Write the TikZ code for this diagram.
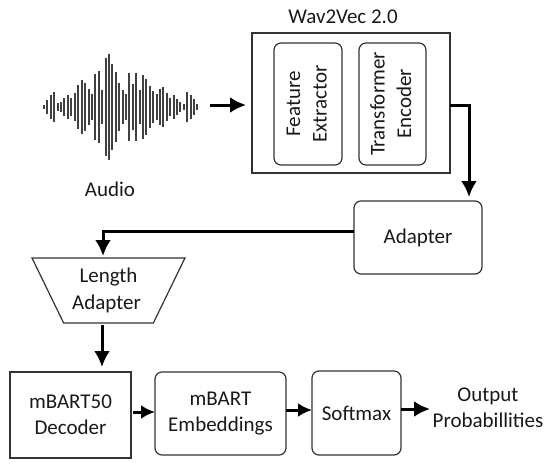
\documentclass[tikz,border=0pt]{standalone}
\usepackage{fontspec}
\setmainfont{Carlito}
\usetikzlibrary{arrows.meta,shapes.geometric}
\tikzset{
  flowline/.style={line width=3pt,-{Latex[length=16pt,width=16pt]}},
  smallflow/.style={line width=3pt,-{Latex[length=14pt,width=14pt]}},
  box/.style={draw,line width=1.2pt,outer sep=0pt,inner sep=0pt,align=center,black!80,text=black!90},
  roundbox/.style={box,rounded corners=7pt},
  label/.style={align=center,inner sep=0pt,text=black!90}
}
\begin{document}
\begin{tikzpicture}[x=1pt,y=-1pt,font=\fontsize{21}{26.5}\selectfont]
    \useasboundingbox (0,0) rectangle (550,467);
    % --- waveform
    \foreach \x/\h in {44/2.3,47.3/7.3,51/11.7,54.3/15,57.7/4,61/5,64.3/9,67.7/11.7,71.3/9.3,74.7/14,78.3/21.7,82/27.3,85.3/24,88.7/18.3,92/13.3,95.3/33.3,98.7/36,102/16.7,105.7/49.3,109/53.3,112.3/42.7,116/35,119.3/24,122.7/17.3,126/13.3,129.3/34.3,132.7/23.3,136.3/34.3,139.7/16.7,143/32.3,146.3/28.3,149.7/20.7,153.3/16,156.7/12.7,160/18.3,163.3/20,166.7/14.3,170.3/9.3,173.7/11.7,177/8.3,180.3/5,183.7/3.3,187.3/14.7,190.7/11.7,194/8.3,197.3/2.7}
      {\draw[line width=2.2pt,black!75] (\x,107-\h) -- (\x,107+\h);}
    \node[label] (audio) at (110,189) {Audio};
    \coordinate (audioend) at (210,105);
    % --- encoder
    \node[box,minimum width=198pt,minimum height=140pt] (wav) at (351,103) {};
    \node[label] (wavname) at (343,17) {Wav2Vec 2.0};
    \node[roundbox,minimum width=68pt,minimum height=122pt] (feature) at (308,104)
      {\rotatebox{90}{\begin{tabular}{@{}c@{}}Feature\\Extractor\end{tabular}}};
    \node[roundbox,minimum width=67pt,minimum height=122pt] (transformer) at (392.5,104)
      {\rotatebox{90}{\begin{tabular}{@{}c@{}}Transformer\\Encoder\end{tabular}}};
    \node[roundbox,minimum width=128pt,minimum height=73pt] (adapter) at (418,237.5) {Adapter};
    \node[box,trapezium,shape border rotate=180,trapezium stretches=true,
      trapezium left angle=60,trapezium right angle=60,
      minimum width=153pt,minimum height=65pt] (length) at (108.5,290.5) {Length\\Adapter\hspace*{4pt}};
    % --- decoder row
    \node[box,minimum width=121pt,minimum height=86pt] (decoder) at (70.5,415) {mBART50\\Decoder};
    \node[roundbox,minimum width=131pt,minimum height=83pt] (embed) at (220.5,413.5) {mBART\\Embeddings};
    \node[roundbox,minimum width=89pt,minimum height=84pt] (softmax) at (356.5,413) {Softmax};
    \node[label] (output) at (488,408) {Output\\Probabillities};
    % --- connectors
    \draw[flowline] (audioend) -- (246,105);
    \draw[flowline] (wav.east |- 0,105) -- (469,105) -- (469,197);
    \draw[flowline] (adapter.west |- 0,231) -- (103,231) -- (103,256);
    \draw[flowline] (102,325) -- (102,367);
    \draw[smallflow] (133,412) -- (embed.west |- 0,412);
    \draw[smallflow] (embed.east |- 0,410) -- (softmax.west |- 0,410);
    \draw[flowline] (softmax.east |- 0,409) -- (430,409);
  \end{tikzpicture}
\end{document}
